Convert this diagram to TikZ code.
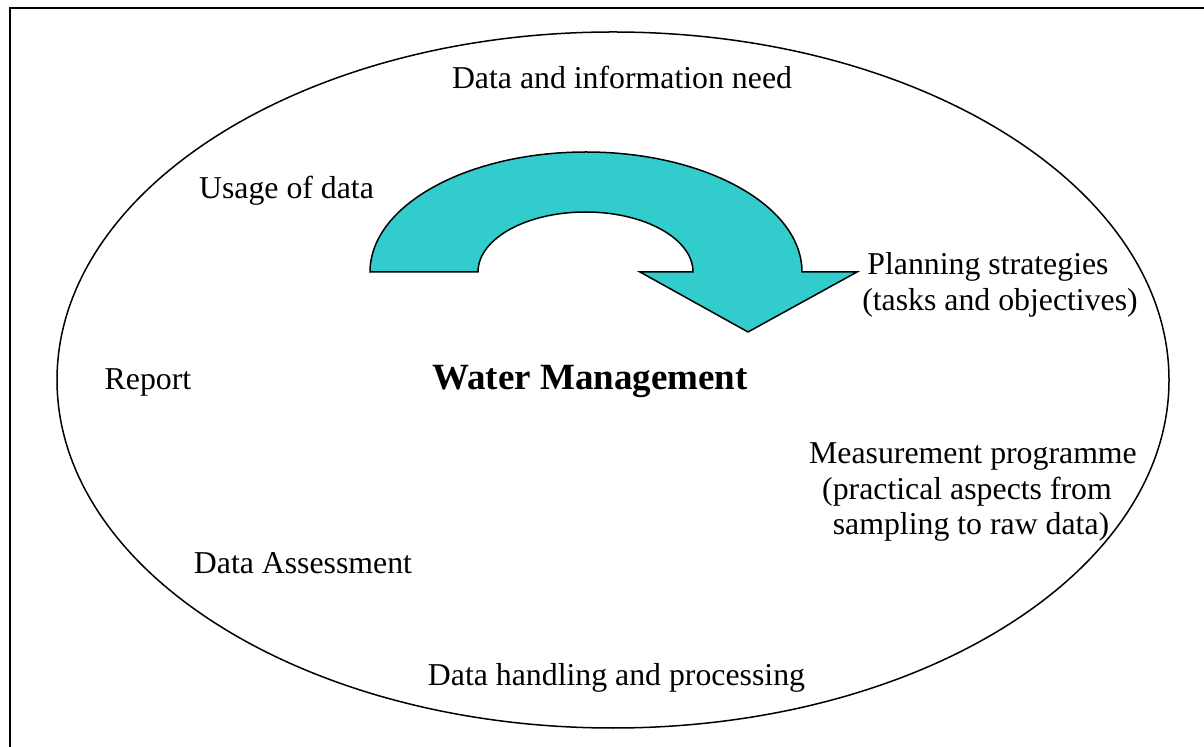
\documentclass[tikz,border=0pt]{standalone}
\usepackage{fontspec}
\setmainfont{Liberation Serif}
\definecolor{arrowfill}{RGB}{51,204,204}
\begin{document}
\begin{tikzpicture}[x=0.5pt,y=-0.5pt,
  lbl/.style={inner sep=0pt,anchor=base,font=\fontsize{15.9}{18}\selectfont},
  title/.style={inner sep=0pt,anchor=base,font=\fontsize{18.5}{21}\selectfont\bfseries},
  frame/.style={line width=1.4pt},
  outline/.style={line width=0.75pt}]
\useasboundingbox (0,0) rectangle (1204,747);
% frame (top and left edges only)
\draw[frame] (1204,8) -- (10,8) -- (10,747);
% ellipse
\draw[outline] (613,380) ellipse[x radius=278pt,y radius=174pt];
% curved arrow
\draw[outline,fill=arrowfill,line join=miter]
  (370,272) arc[start angle=180,end angle=0,x radius=108pt,y radius=60pt]
  -- (857,272) -- (748,332) -- (640,272) -- (693,272)
  arc[start angle=0,end angle=180,x radius=53.75pt,y radius=30pt]
  -- cycle;
% labels
\node[lbl] (need) at (622,89) {Data and information need};
\node[lbl] (usage) at (286.5,199) {Usage of data};
\node[lbl] (plan1) at (988,275) {Planning strategies};
\node[lbl] (plan2) at (1000,311) {(tasks and objectives)};
\node[lbl] (report) at (148,390) {Report};
\node[title] (wm) at (590,390) {Water Management};
\node[lbl] (meas1) at (973,464) {Measurement programme};
\node[lbl] (meas2) at (967,500) {(practical aspects from};
\node[lbl] (meas3) at (971,535) {sampling to raw data)};
\node[lbl] (assess) at (303,574) {Data Assessment};
\node[lbl] (handle) at (616.5,685) {Data handling and processing};
\end{tikzpicture}
\end{document}
